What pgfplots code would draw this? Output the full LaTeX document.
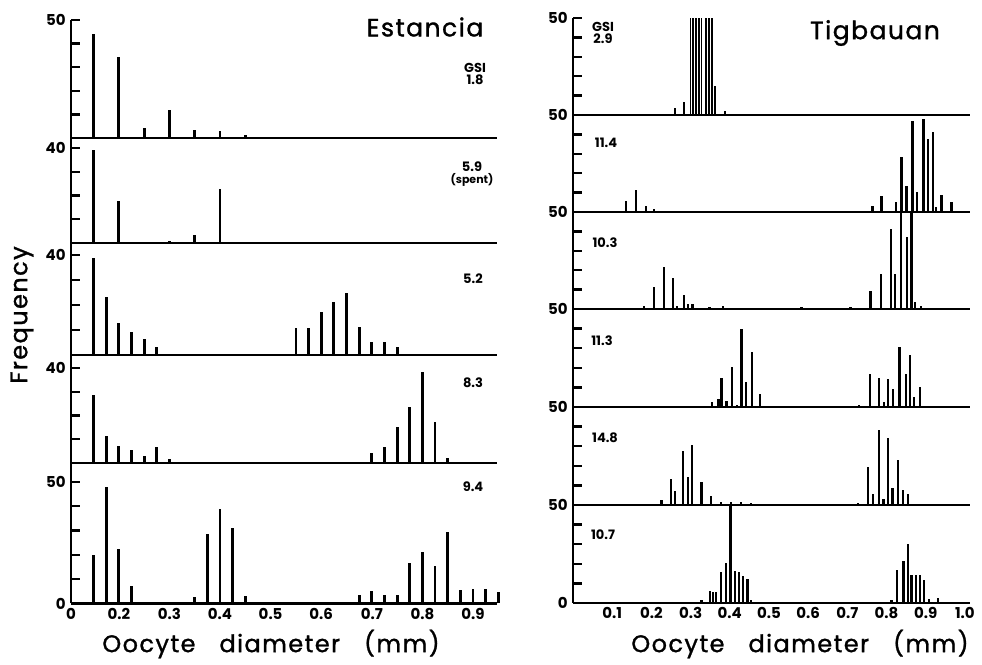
\documentclass[border=0pt]{standalone}
\usepackage{fontspec}
\setmainfont{Poppins}
\newfontfamily\spaced[LetterSpace=6, FakeBold=1.2]{Poppins}
\usepackage{pgfplots}
\pgfplotsset{compat=1.18}

\pgfplotsset{
  panel/.style={
    scale only axis,
    clip=false,
    axis x line*=bottom, axis y line*=left,
    axis line style={-, line width=1.3pt},
    xtick=\empty,
    tick align=inside,
    ytick style={draw=none},
    yticklabel style={font=\bfseries\fontsize{7.5}{8}\selectfont, inner sep=2.5pt},
    xticklabel style={font=\bfseries\fontsize{7.5}{8}\selectfont, inner sep=2pt},
    /pgf/number format/assume math mode=true,
    ymin=0,
  },
  left panel/.style={panel, width=213pt, xmin=0.1055, xmax=0.9474},
  right panel/.style={panel, width=198.5pt, xmin=0, xmax=1.013, ymax=50,
    height=48.5pt, ytick={10,20,30,40,50}, yticklabels={,,,,50}},
  spikes/.style={ycomb, black, line width=1.4pt, mark=none},
  rspikes/.style={ycomb, black, line width=1.15pt, mark=none},
}
% inward tick stubs on the frequency axis: #1 = left end of the x range, #2 = tick values
\newcommand\stubs[2]{%
  \pgfplotsinvokeforeach{#2}{\draw[black, line width=1.2pt] (axis cs:#1,##1) -- ++(4.5pt,0pt);}}

\begin{document}
\begin{tikzpicture}
\path[use as bounding box] (0,0) rectangle (491pt,332.5pt);

% ---------------- Estancia ----------------
\begin{axis}[left panel, at={(35.5pt,263.5pt)}, anchor=south west,
  height=59pt, ymax=50, ytick={10,20,30,40,50}, yticklabels={,,,,50}]
\addplot[spikes] coordinates {(0.15,44) (0.2,34.5) (0.25,4.2) (0.3,12) (0.35,3.5) (0.4,2.8) (0.45,1.4)};
\stubs{0.1055}{10,20,30,40,50}
\end{axis}

\begin{axis}[left panel, at={(35.5pt,211pt)}, anchor=south west,
  height=52.5pt, ymax=44.2, ytick={10,20,30,40}, yticklabels={,,,40}]
\addplot[spikes] coordinates {(0.15,39.3) (0.2,17.5) (0.3,1) (0.35,3.5) (0.4,22.9)};
\stubs{0.1055}{10,20,30,40}
\end{axis}

\begin{axis}[left panel, at={(35.5pt,155pt)}, anchor=south west,
  height=56pt, ymax=44.8, ytick={10,20,30,40}, yticklabels={,,,40}]
\addplot[spikes] coordinates {(0.15,38.7) (0.175,23) (0.2,12.7) (0.225,9) (0.25,6.3) (0.275,3.3)
  (0.55,10.7) (0.575,10.7) (0.6,17) (0.625,21.3) (0.65,24.7) (0.675,11) (0.7,5) (0.725,5) (0.75,3)};
\stubs{0.1055}{10,20,30,40}
\end{axis}

\begin{axis}[left panel, at={(35.5pt,101pt)}, anchor=south west,
  height=54pt, ymax=45.5, ytick={10,20,30,40}, yticklabels={,,,40}]
\addplot[spikes] coordinates {(0.15,28.5) (0.175,11.5) (0.2,7) (0.225,5.6) (0.25,3) (0.275,6.7) (0.3,1.7)
  (0.7,4.2) (0.725,6.6) (0.75,15.2) (0.775,23.6) (0.8,38.2) (0.825,17.1) (0.85,2.1)};
\stubs{0.1055}{10,20,30,40}
\end{axis}

\begin{axis}[left panel, at={(35.5pt,30.75pt)}, anchor=south west,
  height=70.25pt, ymax=57.8, ytick={0,10,20,30,40,50}, yticklabels={0,,,,,50},
  xtick={0.1055,0.2,0.3,0.4,0.5,0.6,0.7,0.8,0.9},
  xticklabels={0,0.2,0.3,0.4,0.5,0.6,0.7,0.8,0.9},
  xtick style={draw=none}]
\addplot[spikes] coordinates {(0.15,20) (0.175,48) (0.2,22.4) (0.225,7.3)
  (0.35,2.7) (0.375,28.7) (0.4,39) (0.425,31) (0.45,3)
  (0.675,3.6) (0.7,5.3) (0.725,3.7) (0.75,3.3) (0.775,16.7) (0.8,21) (0.825,15.6) (0.85,29.3)
  (0.875,5.6) (0.9,6) (0.925,5.9) (0.95,4.7)};
\stubs{0.1055}{10,20,30,40,50}
\end{axis}

% ---------------- Tigbauan ----------------
\begin{axis}[right panel, at={(286.5pt,275pt)}, anchor=south west]
\addplot[rspikes] coordinates {(0.26,3.7) (0.283,6.5) (0.362,14.8) (0.388,2.2)};
\addplot[ycomb, black, line width=0.9pt, mark=none] coordinates {(0.300,50) (0.307,50) (0.314,50) (0.321,50) (0.328,50)
  (0.340,50) (0.347,50) (0.354,50)};
\stubs{0}{10,20,30,40,50}
\end{axis}

\begin{axis}[right panel, at={(286.5pt,226.5pt)}, anchor=south west]
\addplot[rspikes] coordinates {(0.135,5.6) (0.16,11.4) (0.186,3) (0.207,1.8)
  (0.764,3) (0.787,8.2) (0.824,4.9) (0.838,28.1) (0.851,13.2) (0.866,46.7) (0.877,10.5)
  (0.894,47.7) (0.905,37.7) (0.918,41.2) (0.926,2.6) (0.94,8.8) (0.966,4.9)};
\stubs{0}{10,20,30,40}
\end{axis}

\begin{axis}[right panel, at={(286.5pt,178pt)}, anchor=south west]
\addplot[rspikes] coordinates {(0.181,1.3) (0.207,11.3) (0.232,21.4) (0.256,16) (0.266,1.3) (0.283,7.1)
  (0.294,2.7) (0.305,2.7) (0.348,0.9) (0.382,1.3) (0.583,0.9) (0.708,0.9)
  (0.759,9.3) (0.786,17.9) (0.811,41) (0.821,17.9) (0.837,50) (0.853,37) (0.864,50) (0.872,3.6) (0.888,1.3)};
\stubs{0}{10,20,30,40}
\end{axis}

\begin{axis}[right panel, at={(286.5pt,129pt)}, anchor=south west, height=49pt]
\addplot[rspikes] coordinates {(0.354,2.5) (0.371,4) (0.379,15) (0.392,3.3) (0.405,20.3) (0.418,0.8)
  (0.43,40) (0.441,12.5) (0.456,28.3) (0.477,6.7)
  (0.73,0.8) (0.758,16.7) (0.781,14.7) (0.794,2.5) (0.804,14.2) (0.817,9.2) (0.833,30.8)
  (0.849,16.7) (0.86,26.7) (0.87,5.3) (0.885,10)};
\stubs{0}{10,20,30,40}
\end{axis}

\begin{axis}[right panel, at={(286.5pt,80pt)}, anchor=south west, height=49pt]
\addplot[rspikes] coordinates {(0.226,2.7) (0.25,13.4) (0.26,7.1) (0.28,27.7) (0.293,14.3) (0.304,30.4)
  (0.328,11.6) (0.352,4.5) (0.378,1.3) (0.403,1.3) (0.429,1.6) (0.454,0.9)
  (0.728,0.9) (0.753,19.6) (0.766,5.4) (0.781,38.4) (0.792,3.2) (0.804,34.3) (0.815,8.9)
  (0.83,23.2) (0.842,7.7) (0.855,5.4)};
\stubs{0}{10,20,30,40}
\end{axis}

\begin{axis}[right panel, at={(286.5pt,31pt)}, anchor=south west, height=49pt,
  ytick={0,10,20,30,40,50}, yticklabels={0,,,,,50},
  xtick={0.1,0.2,0.3,0.4,0.5,0.6,0.7,0.8,0.9,1.0},
  xticklabels={0.1,0.2,0.3,0.4,0.5,0.6,0.7,0.8,0.9,1.0},
  xtick style={draw=none}]
\addplot[rspikes] coordinates {(0.328,1.7) (0.35,5.9) (0.358,5.6) (0.365,5.6) (0.378,15.8) (0.39,20.3)
  (0.402,49.5) (0.413,16.1) (0.424,15.8) (0.434,13.6) (0.445,12.2) (0.454,1.7)
  (0.813,1.7) (0.827,16.9) (0.843,21.2) (0.854,30.2) (0.864,14.4) (0.875,14.1) (0.885,14.4)
  (0.896,11.9) (0.908,2.2) (0.932,2.5)};
\stubs{0}{10,20,30,40}
\end{axis}

% ---------------- lettering ----------------
\begin{scope}[shift={(0pt,332.5pt)}, x=0.5pt, y=-0.5pt]
  \node at (425,27) {\spaced\fontsize{12.5}{14}\selectfont Estancia};
  \node at (875,33) {\spaced\fontsize{12.5}{14}\selectfont Tigbauan};
  \node[font=\bfseries\fontsize{6.5}{7}\selectfont, align=center] at (475,74) {GSI\\[-1pt]1.8};
  \node[font=\bfseries\fontsize{6.5}{7}\selectfont, align=center] at (472,174) {5.9\\[-1pt]{\fontsize{5.5}{6}\selectfont(spent)}};
  \node[font=\bfseries\fontsize{6.5}{7}\selectfont] at (473,279) {5.2};
  \node[font=\bfseries\fontsize{6.5}{7}\selectfont] at (473,383) {8.3};
  \node[font=\bfseries\fontsize{6.5}{7}\selectfont] at (473,487) {9.4};
  \node[font=\bfseries\fontsize{6.5}{7}\selectfont, align=center] at (603,33) {GSI\\[-1pt]2.9};
  \node[font=\bfseries\fontsize{6.5}{7}\selectfont] at (606,143) {11.4};
  \node[font=\bfseries\fontsize{6.5}{7}\selectfont] at (605,243) {10.3};
  \node[font=\bfseries\fontsize{6.5}{7}\selectfont] at (602,341) {11.3};
  \node[font=\bfseries\fontsize{6.5}{7}\selectfont] at (605,438) {14.8};
  \node[font=\bfseries\fontsize{6.5}{7}\selectfont] at (603,535) {10.7};
  \node at (271,644) {\spaced\fontsize{12}{14}\selectfont Oocyte\quad diameter\quad (mm)};
  \node at (800,644) {\spaced\fontsize{12}{14}\selectfont Oocyte\quad diameter\quad (mm)};
  \node[rotate=90] at (22,315) {\spaced\fontsize{12}{14}\selectfont Frequency};
\end{scope}
\end{tikzpicture}
\end{document}
